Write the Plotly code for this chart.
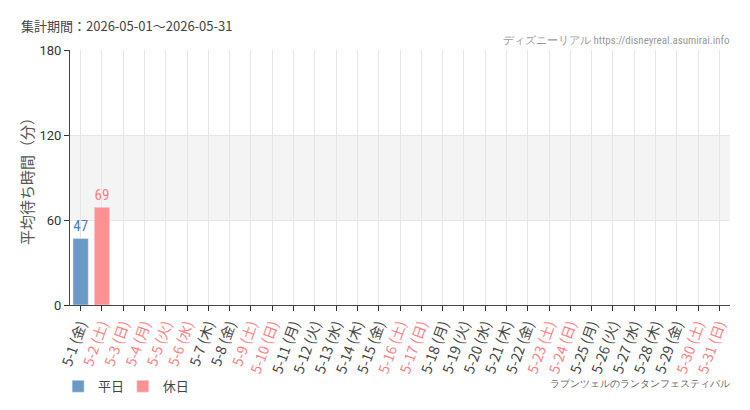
import plotly.graph_objects as go

dates = [f"5-{d}" for d in range(1, 32)]
weekdays = ["金","土","日","月","火","水","木","金","土","日","月","火","水","木","金","土","日","月","火","水","木","金","土","日","月","火","水","木","金","土","日"]
holiday_days = [2, 3, 4, 5, 6, 9, 10, 16, 17, 23, 24, 30, 31]
weekday_values = {1: 47}
holiday_values = {2: 69}

labels = [f"{d} ({w})" for d, w in zip(dates, weekdays)]
is_holiday = [(i + 1) in holiday_days for i in range(31)]

wk_y = [weekday_values.get(i + 1) for i in range(31)]
hd_y = [holiday_values.get(i + 1) for i in range(31)]

BLUE = "#6b9ac6"
PINK = "#ff9195"
BLUE_T = "#4a7fb8"
PINK_T = "#ff7b80"
NARROW = "Liberation Sans Narrow, Roboto Condensed, Arial Narrow, sans-serif"

fig = go.Figure()
fig.add_trace(go.Bar(
    x=labels, y=wk_y, name="平日", marker_color=BLUE, width=0.72, legend="legend",
    text=[str(v) if v is not None else "" for v in wk_y], textposition="outside",
    textfont=dict(color=BLUE_T, size=15, family=NARROW), cliponaxis=False,
))
fig.add_trace(go.Bar(
    x=labels, y=hd_y, name="休日", marker_color=PINK, width=0.72, legend="legend2",
    text=[str(v) if v is not None else "" for v in hd_y], textposition="outside",
    textfont=dict(color=PINK_T, size=15, family=NARROW), cliponaxis=False,
))

ticktext = [
    f'<span style="color:{"#ff8080" if h else "#444444"}">{l}</span>'
    for l, h in zip(labels, is_holiday)
]

leg_common = dict(orientation="h", y=-0.26, xanchor="left", yanchor="top",
                  xref="paper", itemwidth=30, font=dict(size=13, color="#444444"),
                  bgcolor="rgba(0,0,0,0)")

fig.update_layout(
    width=750, height=410,
    margin=dict(l=70, r=20, t=50, b=105, autoexpand=False),
    paper_bgcolor="#ffffff", plot_bgcolor="#ffffff",
    barmode="overlay",
    font=dict(family="Noto Sans CJK JP, sans-serif", color="#444444", size=12),
    showlegend=True,
    legend=dict(x=-0.018, **leg_common),
    legend2=dict(x=0.080, **leg_common),
    xaxis=dict(
        automargin=False,
        tickmode="array", tickvals=labels, ticktext=ticktext, tickangle=-70,
        showline=True, linecolor="#444444", linewidth=1,
        ticks="outside", ticklen=5, tickcolor="#333333",
        showgrid=True, gridcolor="#e6e6e6",
        tickfont=dict(size=14),
        range=[-0.5, 30.5],
    ),
    yaxis=dict(
        automargin=False,
        range=[0, 180], tickvals=[0, 60, 120, 180],
        showline=True, linecolor="#444444", linewidth=1,
        ticks="outside", ticklen=5, tickcolor="#333333",
        showgrid=True, gridcolor="#e6e6e6", zeroline=False,
        tickfont=dict(size=13, color="#333333", family="Roboto, sans-serif"),
        title=dict(text="平均待ち時間（分）", font=dict(size=15, color="#555555"), standoff=2),
    ),
)

fig.add_shape(type="rect", xref="paper", yref="y", x0=0, x1=1, y0=60, y1=120,
              fillcolor="#f4f4f4", line=dict(width=0), layer="below")

fig.add_annotation(text="集計期間：2026-05-01～2026-05-31", xref="paper", yref="paper",
                   x=-0.077, y=1.14, xanchor="left", yanchor="top", showarrow=False,
                   font=dict(size=13, color="#444444"))
fig.add_annotation(text="ディズニーリアル https://disneyreal.asumirai.info", xref="paper", yref="paper",
                   x=1.003, y=1.005, xanchor="right", yanchor="bottom", showarrow=False,
                   font=dict(size=11, color="#999999", family=NARROW))
fig.add_annotation(text="ラプンツェルのランタンフェスティバル", xref="paper", yref="paper",
                   x=1.003, y=-0.28, xanchor="right", yanchor="top", showarrow=False,
                   font=dict(size=10, color="#666666", family=NARROW))

fig.write_html("out.html", config={"displayModeBar": False},
               post_script="document.body.style.margin='0';")
